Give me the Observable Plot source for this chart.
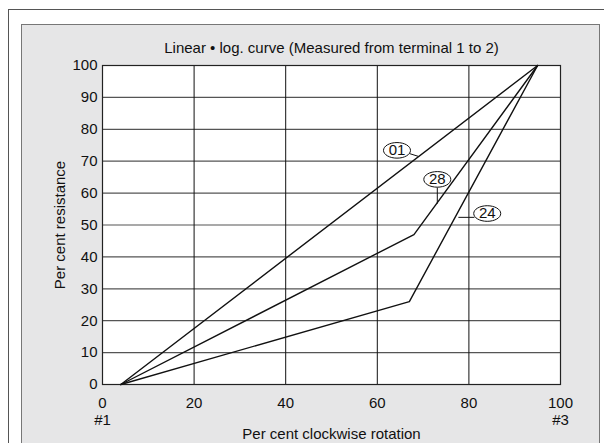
<!DOCTYPE html>
<html>
<head>
<meta charset="utf-8">
<script src="https://cdn.jsdelivr.net/npm/d3@7"></script>
<script src="https://cdn.jsdelivr.net/npm/@observablehq/plot@0.6"></script>
<style>
  html, body { margin: 0; padding: 0; background: #fff; width: 604px; height: 443px; overflow: hidden; }
  #frame { position: absolute; left: 8px; top: 9px; width: 700px; height: 500px; border: 1px solid #555; }
  #panel { position: absolute; left: 21px; top: 24px; width: 577px; height: 440px; background: #e6e6e7; border: 1px solid #777; }
  #chart { position: absolute; left: 21px; top: 24px; }
  svg { font-family: "Liberation Sans", Arial, sans-serif; }
</style>
</head>
<body>
<div id="frame"></div>
<div id="panel"></div>
<div id="chart"></div>
<script>
// Data
const title = "Linear \u2022 log. curve (Measured from terminal 1 to 2)";
const xLabel = "Per cent clockwise rotation";
const yLabel = "Per cent resistance";
const xTicks = [0, 20, 40, 60, 80, 100];
const yTicks = [0, 10, 20, 30, 40, 50, 60, 70, 80, 90, 100];
const xTickExtra = {0: "#1", 100: "#3"};

const curve01 = [[4, 0], [95, 100]];
const curve28 = [[4, 0], [68, 47], [95, 100]];
const curve24 = [[4, 0], [67, 26], [95, 100]];

const curveLabels = ["01", "28", "24"];
const labelX = [64.3, 73.1, 84.0];
const labelY = [73.4, 64.3, 53.6];
const leaderFrom = [[67, 72.4], [73.1, 61.8], [81.2, 52.4]];
const leaderTo = [[69, 71.5], [73.1, 56.7], [77.7, 52.4]];

const curves = [
  ...curve01.map(([x, y]) => ({id: "01", x, y})),
  ...curve28.map(([x, y]) => ({id: "28", x, y})),
  ...curve24.map(([x, y]) => ({id: "24", x, y}))
];
const labels = curveLabels.map((t, i) => ({t, x: labelX[i], y: labelY[i]}));
const leaders = curveLabels.map((t, i) => ({x1: leaderFrom[i][0], y1: leaderFrom[i][1], x2: leaderTo[i][0], y2: leaderTo[i][1]}));

// ellipse symbol (wider than tall)
const ellipse = {
  draw(ctx, size) {
    const rx = 13.5, ry = 7.8, k = 0.5523;
    ctx.moveTo(rx, 0);
    ctx.bezierCurveTo(rx, ry * k, rx * k, ry, 0, ry);
    ctx.bezierCurveTo(-rx * k, ry, -rx, ry * k, -rx, 0);
    ctx.bezierCurveTo(-rx, -ry * k, -rx * k, -ry, 0, -ry);
    ctx.bezierCurveTo(rx * k, -ry, rx, -ry * k, rx, 0);
    ctx.closePath();
  }
};

const FS = 15;
const W = 578, H = 419;
const chart = Plot.plot({
  width: W,
  height: H,
  marginLeft: 81,
  marginRight: 39,
  marginTop: 41,
  marginBottom: 59,
  style: {background: "transparent", fontSize: FS + "px", fontFamily: "'Liberation Sans', Arial, sans-serif", color: "#111"},
  x: {domain: [0, 100]},
  y: {domain: [0, 100]},
  marks: [
    Plot.frame({fill: "white", stroke: null}),
    Plot.ruleY(yTicks.filter(d => d > 0 && d < 100), {stroke: "#555", strokeWidth: 1.2}),
    Plot.ruleX(xTicks.filter(d => d > 0 && d < 100), {stroke: "#111", strokeWidth: 1}),
    Plot.frame({stroke: "#222", strokeWidth: 1.2}),
    Plot.axisY(yTicks, {tickSize: 0, tickPadding: 5, fontSize: FS, label: null}),
    Plot.axisX(xTicks, {tickSize: 0, tickPadding: 12, fontSize: FS, lineHeight: 1.1, label: null,
      tickFormat: d => xTickExtra[d] ? `${d}\n${xTickExtra[d]}` : `${d}`}),
    Plot.text([yLabel], {frameAnchor: "left", textAnchor: "middle", dx: -42, rotate: -90, fontSize: FS}),
    Plot.text([xLabel], {frameAnchor: "bottom", dy: 54, fontSize: FS}),
    Plot.text([title], {frameAnchor: "top", dy: -23, fontSize: FS}),
    Plot.line(curves, {x: "x", y: "y", z: "id", stroke: "#111", strokeWidth: 1.4}),
    Plot.link(leaders, {x1: "x1", y1: "y1", x2: "x2", y2: "y2", stroke: "#111", strokeWidth: 1}),
    Plot.dot(labels, {x: "x", y: "y", symbol: ellipse, r: 8, fill: "white", stroke: "#111", strokeWidth: 1}),
    Plot.text(labels, {x: "x", y: "y", text: "t", fontSize: FS, fill: "#111"})
  ]
});
document.getElementById("chart").appendChild(chart);
</script>
</body>
</html>
